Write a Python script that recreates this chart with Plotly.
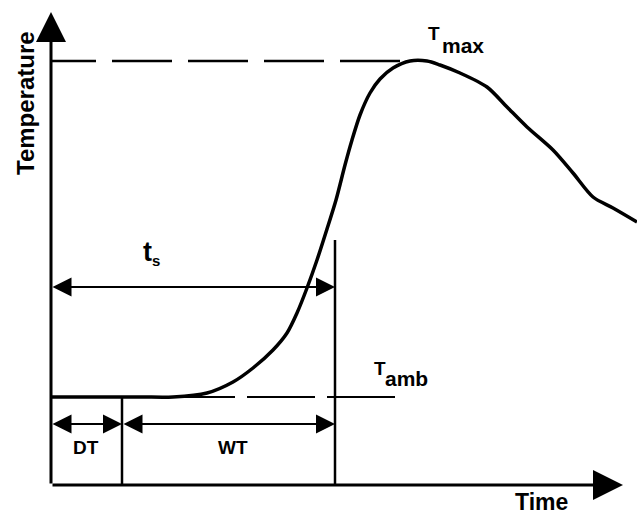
import plotly.graph_objects as go

# Temperature response of a sample after exposure (arbitrary units)
time_pts = [0, 89, 122, 156, 182, 202, 222, 236, 246, 256, 266, 276, 285, 294,
            301, 309, 319, 329, 342, 359, 376, 389, 409, 436, 456, 476, 502, 522, 542, 562, 586]
temp_pts = [88, 88, 88, 92, 103, 117, 135, 152, 172, 197, 225, 256, 285, 320,
            345, 370, 392, 406, 417, 424, 424, 420, 412, 398, 378, 358, 335, 312, 288, 277, 263]

T_amb = 88          # ambient temperature level
T_max = 424         # peak temperature
DT_end = 71         # end of dead time
ts_end = 284        # end of the t_s interval (DT + WT)
tmax_line_end = 349 # where the T_max guide meets the curve
tamb_line_end = 344 # right end of the T_amb guide
x_axis_end = 572
y_axis_end = 473
ts_level = 198
interval_level = 61

BLACK = "#000000"
FONT = "Arial, Liberation Sans, sans-serif"

fig = go.Figure()

# T_max guide, drawn right-to-left so the dash pattern starts at the curve
fig.add_trace(go.Scatter(x=[tmax_line_end, 0], y=[T_max, T_max], mode="lines",
                         line=dict(color=BLACK, width=2.5, dash="60px,16px"),
                         hoverinfo="skip"))
# T_amb guide
fig.add_trace(go.Scatter(x=[tamb_line_end, 0], y=[T_amb, T_amb], mode="lines",
                         line=dict(color=BLACK, width=2, dash="68px,12px"),
                         hoverinfo="skip"))
# interval boundaries
fig.add_trace(go.Scatter(x=[DT_end, DT_end], y=[0, T_amb], mode="lines",
                         line=dict(color=BLACK, width=2.5), hoverinfo="skip"))
fig.add_trace(go.Scatter(x=[ts_end, ts_end], y=[0, 245], mode="lines",
                         line=dict(color=BLACK, width=2.5), hoverinfo="skip"))
# temperature curve
fig.add_trace(go.Scatter(x=time_pts, y=temp_pts, mode="lines",
                         line=dict(color=BLACK, width=3.5, shape="spline", smoothing=0.8),
                         hoverinfo="skip"))


def arrow(x0, y0, x1, y1, both=False, width=2, size=1.9):
    return dict(x=x1, y=y1, ax=x0, ay=y0, xref="x", yref="y", axref="x", ayref="y",
                showarrow=True, text="", arrowhead=2, arrowsize=size, arrowwidth=width,
                arrowcolor=BLACK, startarrowhead=2, startarrowsize=size,
                arrowside="end+start" if both else "end", standoff=0, startstandoff=0)


def label(x, y, text, size, angle=0):
    return dict(x=x, y=y, xref="x", yref="y", text=text, showarrow=False,
                textangle=angle, font=dict(family=FONT, size=size, color=BLACK, weight="bold"))


annotations = [
    # axes
    arrow(0, 0, 0, y_axis_end, width=3, size=2.0),
    arrow(0, 0, x_axis_end, 0, width=3, size=2.0),
    # intervals
    arrow(0, ts_level, ts_end, ts_level, both=True),
    arrow(0, interval_level, DT_end, interval_level, both=True),
    arrow(DT_end, interval_level, ts_end, interval_level, both=True),
    # labels
    label(-26, 382, "Temperature", 24, angle=-90),
    label(490, -17, "Time", 23),
    label(35, 38, "DT", 19),
    label(182, 38, "WT", 19),
    label(96, 233, "t", 27),
    label(105, 225, "s", 15),
    label(383, 452, "T", 19),
    label(412, 440, "max", 21),
    label(329, 117, "T", 19),
    label(355, 107, "amb", 21),
]

fig.update_layout(
    width=637, height=515,
    margin=dict(l=0, r=0, t=0, b=0),
    paper_bgcolor="white", plot_bgcolor="white",
    showlegend=False,
    xaxis=dict(range=[-51, 586], visible=False, fixedrange=True),
    yaxis=dict(range=[-30, 485], visible=False, fixedrange=True),
    annotations=annotations,
)

fig.write_html("out.html")
